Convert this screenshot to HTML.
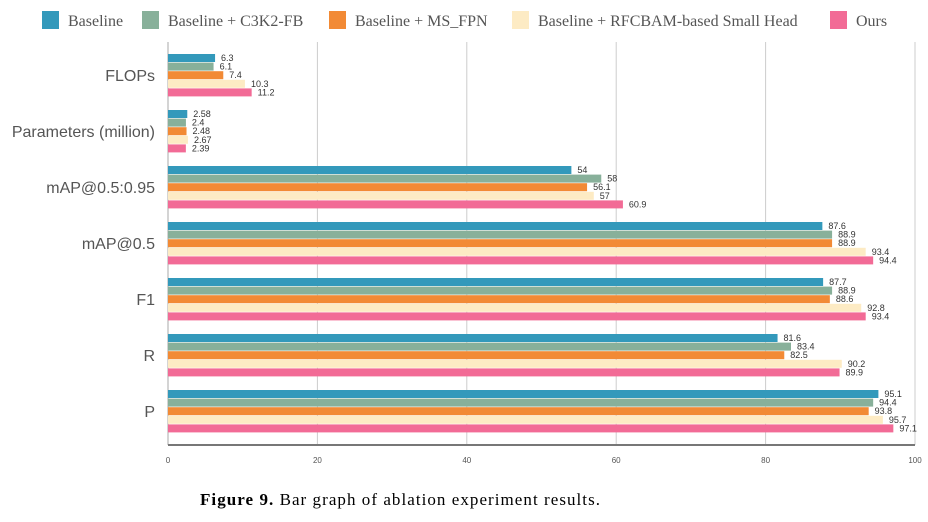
<!DOCTYPE html>
<html><head><meta charset="utf-8"><style>
body{margin:0;background:#fff;width:928px;height:517px;overflow:hidden;font-family:"Liberation Sans",sans-serif}
</style></head><body>
<svg id="c" width="928" height="517"></svg>
<script>
const categories=["FLOPs","Parameters (million)","mAP@0.5:0.95","mAP@0.5","F1","R","P"];
const seriesNames=["Baseline","Baseline + C3K2-FB","Baseline + MS_FPN","Baseline + RFCBAM-based Small Head","Ours"];
const baseline=[6.3,2.58,54,87.6,87.7,81.6,95.1];
const c3k2=[6.1,2.4,58,88.9,88.9,83.4,94.4];
const msfpn=[7.4,2.48,56.1,88.9,88.6,82.5,93.8];
const rfcbam=[10.3,2.67,57,93.4,92.8,90.2,95.7];
const ours=[11.2,2.39,60.9,94.4,93.4,89.9,97.1];
const ticks=[0,20,40,60,80,100];
const series=[baseline,c3k2,msfpn,rfcbam,ours];
const colors=["#3399bb","#88b09a","#f28a35","#fdebc4","#f26b96"];
const NS="http://www.w3.org/2000/svg";
const svg=document.getElementById('c');
function mk(t,a,txt){const e=document.createElementNS(NS,t);for(const k in a)e.setAttribute(k,a[k]);if(txt!=null)e.textContent=txt;svg.appendChild(e);return e;}
const x0=168,x1=915,yTop=42,yBot=445;
const xs=v=>x0+(x1-x0)*v/100;
const groupY=i=>54+i*56;
const barH=8.6;
ticks.forEach(t=>{
 const g=mk('line',{x1:xs(t),x2:xs(t),y1:yTop,y2:yBot,stroke:t===0?'#aaa':'#ccc','stroke-width':1});
 
 
 const l=mk('text',{x:xs(t),y:463,'font-size':8,fill:'#555','text-anchor':'middle'},t);
 
 
});
const ax=mk('line',{x1:x0,x2:x1,y1:yBot,y2:yBot,stroke:'#777','stroke-width':2});


categories.forEach((c,i)=>{
 const t=mk('text',{x:155,y:groupY(i)+27,'font-size':16,fill:'#555','text-anchor':'end'},c);
 
 
 series.forEach((s,j)=>{
  const y=groupY(i)+j*barH;
  const r=mk('rect',{x:x0,y:y,width:xs(s[i])-x0,height:barH-0.6,fill:colors[j]});
  
  
  const v=mk('text',{x:xs(s[i])+6,y:y+7,'font-size':9,fill:'#333'},s[i]);
  
  
 });
});
const legX=[42,142,329,512,830];
seriesNames.forEach((n,j)=>{
 const r=mk('rect',{x:legX[j],y:11,width:17,height:18,fill:colors[j]});
 
 
 const t=mk('text',{x:legX[j]+26,y:26,'font-size':16,fill:'#555','font-family':'Liberation Serif, serif'},n);
 
 
});
const cap=mk('text',{x:200,y:505,'font-size':17,fill:'#000','font-family':'Liberation Serif, serif',textLength:400,lengthAdjust:'spacing'});


cap.innerHTML='<tspan font-weight="bold">Figure 9.</tspan> Bar graph of ablation experiment results.';
</script>
</body></html>
